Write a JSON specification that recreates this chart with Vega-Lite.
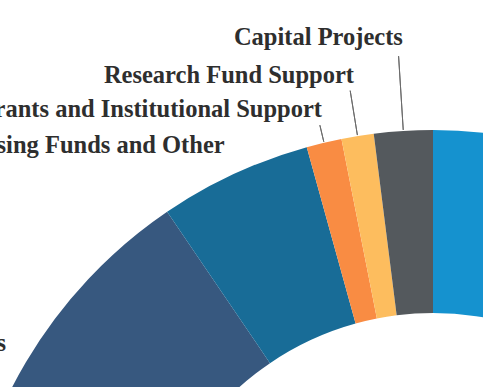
{
  "$schema": "https://vega.github.io/schema/vega-lite/v6.json",
  "width": 866,
  "height": 1206,
  "padding": 0,
  "autosize": {"type": "none"},
  "background": "white",
  "config": {"view": {"stroke": null}},
  "data": {
    "values": [
      {"label": "Scholarships and Fellowships", "value": 38.0},
      {"label": "Academic Programs", "value": 25.0},
      {"label": "Faculty Support", "value": 13.5},
      {"label": "Departmental Programs", "value": 14.0},
      {"label": "Fundraising Funds and Other", "value": 5.2},
      {"label": "Grants and Institutional Support", "value": 1.2},
      {"label": "Research Fund Support", "value": 1.1},
      {"label": "Capital Projects", "value": 2.0}
    ]
  },
  "transform": [
    {"stack": "value", "groupby": [], "as": ["start", "end"]},
    {"calculate": "(datum.start + datum.end) / 2", "as": "mid"}
  ],
  "layer": [
    {
      "mark": {"type": "arc", "innerRadius": 290, "outerRadius": 473},
      "encoding": {
        "theta": {"field": "start", "type": "quantitative", "stack": null, "scale": {"domain": [0, 100]}},
        "theta2": {"field": "end"},
        "color": {
          "field": "label",
          "type": "nominal",
          "legend": null,
          "scale": {
            "domain": ["Scholarships and Fellowships", "Academic Programs", "Faculty Support", "Departmental Programs", "Fundraising Funds and Other", "Grants and Institutional Support", "Research Fund Support", "Capital Projects"],
            "range": ["#1592cf", "#7fb041", "#8a6aa8", "#37587f", "#186c97", "#f98c43", "#fdbd5e", "#54595d"]
          }
        }
      }
    },
    {
      "transform": [{"filter": "datum.label === 'Capital Projects'"}],
      "mark": {"type": "arc", "innerRadius": 474, "outerRadius": 548, "fillOpacity": 0, "stroke": "#6b6b6b", "strokeWidth": 1},
      "encoding": {
        "theta": {"field": "mid", "type": "quantitative", "stack": null, "scale": {"domain": [0, 100]}},
        "theta2": {"field": "mid"}
      }
    },
    {
      "transform": [{"filter": "datum.label === 'Research Fund Support'"}],
      "mark": {"type": "arc", "innerRadius": 474, "outerRadius": 519, "fillOpacity": 0, "stroke": "#6b6b6b", "strokeWidth": 1},
      "encoding": {
        "theta": {"field": "mid", "type": "quantitative", "stack": null, "scale": {"domain": [0, 100]}},
        "theta2": {"field": "mid"}
      }
    },
    {
      "transform": [{"filter": "datum.label === 'Grants and Institutional Support'"}],
      "mark": {"type": "arc", "innerRadius": 474, "outerRadius": 491, "fillOpacity": 0, "stroke": "#6b6b6b", "strokeWidth": 1},
      "encoding": {
        "theta": {"field": "mid", "type": "quantitative", "stack": null, "scale": {"domain": [0, 100]}},
        "theta2": {"field": "mid"}
      }
    },
    {
      "transform": [{"filter": "datum.label === 'Capital Projects'"}],
      "mark": {"type": "text", "radius": 559, "align": "right", "baseline": "alphabetic", "font": "Liberation Serif", "fontSize": 24.5, "fontWeight": "bold", "color": "#2e2e2e", "dx": 5},
      "encoding": {
        "theta": {"field": "mid", "type": "quantitative", "stack": null, "scale": {"domain": [0, 100]}},
        "text": {"field": "label"}
      }
    },
    {
      "transform": [{"filter": "datum.label === 'Research Fund Support'"}],
      "mark": {"type": "text", "radius": 527, "align": "right", "baseline": "alphabetic", "font": "Liberation Serif", "fontSize": 24.5, "fontWeight": "bold", "color": "#2e2e2e", "dx": 5},
      "encoding": {
        "theta": {"field": "mid", "type": "quantitative", "stack": null, "scale": {"domain": [0, 100]}},
        "text": {"field": "label"}
      }
    },
    {
      "transform": [{"filter": "datum.label === 'Grants and Institutional Support'"}],
      "mark": {"type": "text", "radius": 499, "align": "right", "baseline": "alphabetic", "font": "Liberation Serif", "fontSize": 24.5, "fontWeight": "bold", "color": "#2e2e2e", "dx": 4},
      "encoding": {
        "theta": {"field": "mid", "type": "quantitative", "stack": null, "scale": {"domain": [0, 100]}},
        "text": {"field": "label"}
      }
    },
    {
      "transform": [{"filter": "datum.label === 'Fundraising Funds and Other' || datum.label === 'Departmental Programs'"}],
      "mark": {"type": "text", "radius": 496, "align": "right", "baseline": "alphabetic", "font": "Liberation Serif", "fontSize": 24.5, "fontWeight": "bold", "color": "#2e2e2e"},
      "encoding": {
        "theta": {"field": "mid", "type": "quantitative", "stack": null, "scale": {"domain": [0, 100]}},
        "text": {"field": "label"}
      }
    }
  ]
}
